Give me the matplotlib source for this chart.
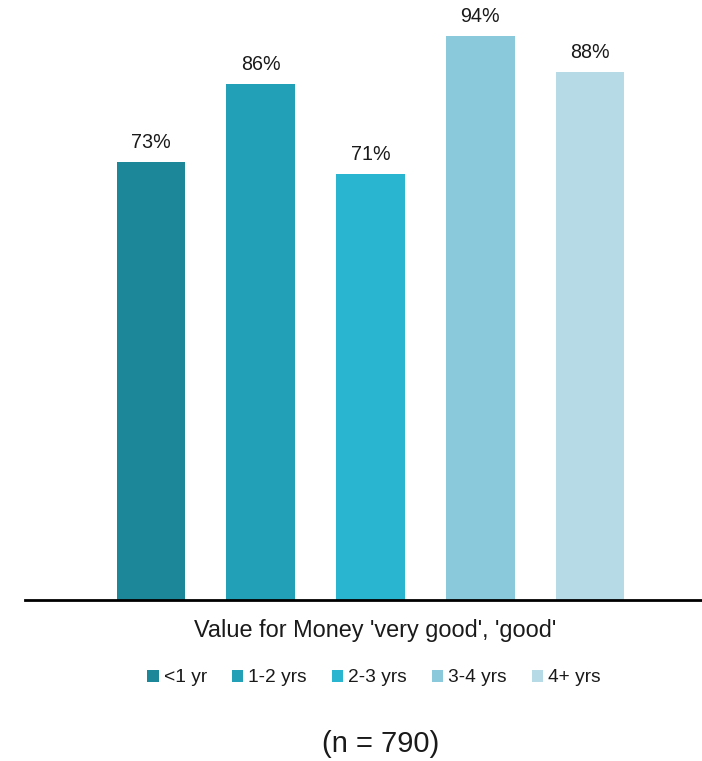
import matplotlib.pyplot as plt
import numpy as np

plt.rcParams['font.family'] = ['Liberation Sans', 'DejaVu Sans']

# tenure groups and share rating value for money 'very good' / 'good'
groups = ['<1 yr', '1-2 yrs', '2-3 yrs', '3-4 yrs', '4+ yrs']
values = [73, 86, 71, 94, 88]
colors = ['#1b8798', '#22a0b7', '#29b4d0', '#89c9db', '#b7dbe6']
category = "Value for Money 'very good', 'good'"
n_note = '(n = 790)'

W, H = 702, 761
fig = plt.figure(figsize=(W / 100, H / 100), dpi=100)
ax = fig.add_axes([25 / W, (H - 600) / H, 1 - 25 / W, 600 / H])

x = np.arange(len(groups))
bars = ax.bar(x, values, width=0.626, color=colors, label=groups, zorder=2)
for b, v in zip(bars, values):
    ax.annotate(f'{v}%', (b.get_x() + b.get_width() / 2, v),
                xytext=(0, 7.5), textcoords='offset points',
                ha='center', va='bottom', fontsize=14.2, color='#1a1a1a')

ax.set_xlim(-1.148, 5.02)
ax.set_ylim(0, 100)
for s in ['top', 'right', 'left']:
    ax.spines[s].set_visible(False)
ax.spines['bottom'].set_linewidth(2)
ax.spines['bottom'].set_color('black')
ax.set_xticks([])
ax.set_yticks([])

fig.text(375 / W, 1 - 630 / H, category, ha='center', va='center',
         fontsize=16.9, color='#1a1a1a')

fig.legend(handles=bars.patches, labels=groups, ncol=5, frameon=False,
           loc='center', bbox_to_anchor=(374 / W, 1 - 678 / H),
           fontsize=13.8, handlelength=0.6, handleheight=0.6,
           handletextpad=0.25, columnspacing=1.3, labelcolor='#1a1a1a')

fig.text(381 / W, 1 - 744 / H, n_note, ha='center', va='center',
         fontsize=21, color='#1a1a1a')

fig.savefig('out.png', dpi=100)
